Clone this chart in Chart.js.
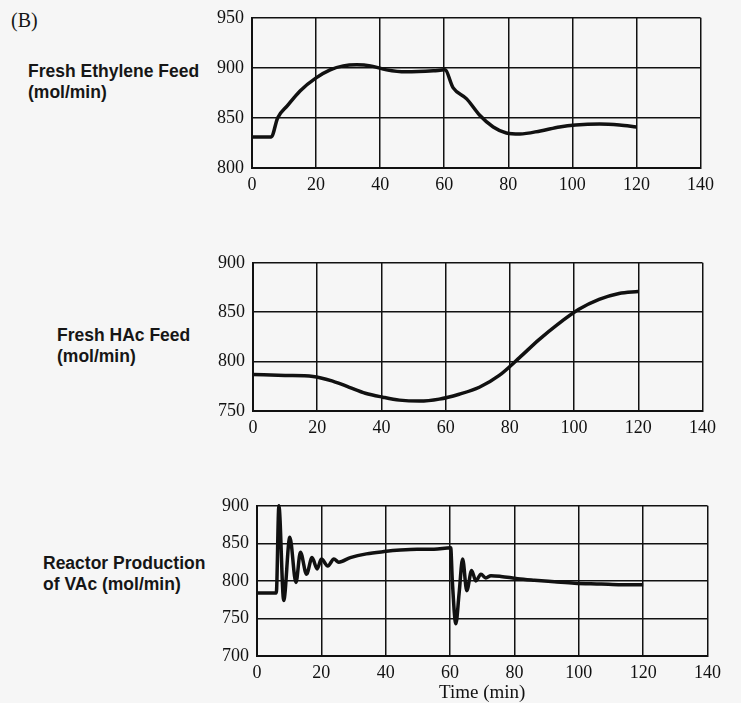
<!DOCTYPE html>
<html>
<head>
<meta charset="utf-8">
<script src="https://cdn.jsdelivr.net/npm/chart.js@4/dist/chart.umd.min.js"></script>
<style>
	body { margin: 0; width: 741px; height: 703px; background: #f6f6f6; position: relative; overflow: hidden; }
	canvas { position: absolute; }
	.lbl { position: absolute; font-family: "Liberation Sans", Arial, sans-serif; font-weight: bold; font-size: 17.5px; line-height: 21px; color: #161616; white-space: nowrap; }
	#tag { position: absolute; left: 11px; top: 9px; font-family: "Liberation Serif", "Times New Roman", serif; font-size: 20px; color: #161616; }
</style>
</head>
<body>
<div id="tag">(B)</div>
<div class="lbl" style="left:28px; top:61px;">Fresh Ethylene Feed<br>(mol/min)</div>
<div class="lbl" style="left:57px; top:325px;">Fresh HAc Feed<br>(mol/min)</div>
<div class="lbl" style="left:43px; top:553px;">Reactor Production<br>of VAc (mol/min)</div>

<canvas id="ethylene-chart" width="520" height="197" style="left:200px; top:-1px;"></canvas>
<canvas id="hac-chart" width="521" height="195" style="left:201px; top:244px;"></canvas>
<canvas id="vac-chart" width="522" height="217" style="left:205px; top:487px;"></canvas>

<script>
// time axis ticks (min)
const timeTicks = [0, 20, 40, 60, 80, 100, 120, 140];

// Fresh ethylene feed (mol/min)
const ethyleneTime = [0, 6, 8, 11, 15, 20, 24.4, 28.5, 32.7, 37, 42, 48, 56.6, 60.2, 62.8, 67, 71, 75.3, 79.4, 83.6, 90, 96, 101, 108.5, 114.7, 120];
const ethyleneFeed = [831, 831, 850, 862, 877, 890, 898, 902, 903, 902, 898, 896, 897, 898, 880, 869, 853, 841, 835, 834, 837, 841, 843, 844, 843, 841];

// Fresh HAc feed (mol/min)
const hacTime = [0, 10, 18.7, 25, 30, 35, 40.4, 45.6, 51.8, 58, 64.2, 70.5, 76.7, 83, 89, 95, 101.5, 107.8, 114, 120];
const hacFeed = [787, 786, 785, 780, 774, 768, 764, 761, 760, 762, 767, 774, 786, 804, 822, 838, 853, 863, 869, 871];

// Reactor production of VAc (mol/min)
const vacTime = [0, 6, 6.8, 8.3, 10.2, 12.1, 13.5, 15.4, 17.1, 18.7, 20, 22, 23.9, 25.4, 29, 34, 39.5, 44.6, 49.8, 55, 60.2, 60.7, 61.8, 62.8, 63.9, 65.2, 66.7, 68, 69.6, 71.1, 72.7, 75.8, 81, 86.2, 92.4, 98.7, 107, 113, 120];
const vacProduction = [784, 784, 900, 774, 858, 798, 838, 809, 831, 816, 829, 820, 829, 825, 831, 836, 839, 841, 842, 842, 844, 800, 743, 783, 829, 787, 814, 800, 809, 804, 807, 806, 803, 801, 799, 797, 796, 795, 795];

const ink = "#111111";
const serif = "'Liberation Serif', 'Times New Roman', serif";

function makeChart(id, times, values, yMin, yMax, xTitle)
{
	let points = times.map(function (t, i) { return {x: t, y: values[i]}; });
	return new Chart(document.getElementById(id), {
		type: "line",
		data: {
			datasets: [{
				data: points,
				borderColor: ink,
				borderWidth: 3.5,
				pointRadius: 0,
				cubicInterpolationMode: "monotone",
				clip: false
			}]
		},
		options: {
			responsive: false,
			animation: false,
			plugins: {legend: {display: false}, tooltip: {enabled: false}},
			layout: {padding: 0},
			scales: {
				x: {
					type: "linear", min: 0, max: 140,
					afterBuildTicks: function (scale) { scale.ticks = timeTicks.map(function (v) { return {value: v}; }); },
					afterFit: function (scale) { scale.height = xTitle ? 48 : 28; },
					grid: {color: ink, lineWidth: 1.5, drawTicks: false},
					border: {color: ink, width: 2},
					ticks: {color: ink, padding: 6, font: {family: serif, size: 18}, maxRotation: 0},
					title: {display: !!xTitle, text: xTitle, color: ink, padding: {top: 0, bottom: 0}, font: {family: serif, size: 19}}
				},
				y: {
					min: yMin, max: yMax,
					afterFit: function (scale) { scale.width = 52; },
					grid: {color: ink, lineWidth: 1.5, drawTicks: false},
					border: {color: ink, width: 2},
					ticks: {color: ink, padding: 8, stepSize: 50, font: {family: serif, size: 18}}
				}
			}
		}
	});
}

makeChart("ethylene-chart", ethyleneTime, ethyleneFeed, 800, 950);
makeChart("hac-chart", hacTime, hacFeed, 750, 900);
makeChart("vac-chart", vacTime, vacProduction, 700, 900, "Time (min)");
</script>
</body>
</html>
